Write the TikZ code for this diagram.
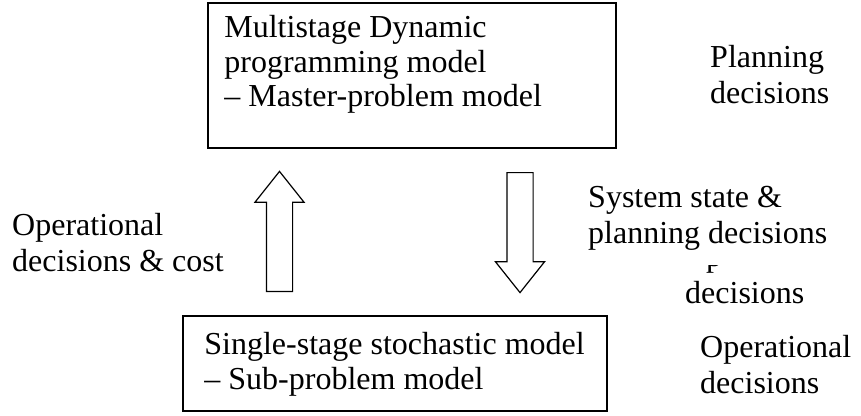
\documentclass[tikz,border=0pt]{standalone}
\usepackage{fontspec}
\setmainfont{Liberation Serif}
\usepackage{xcolor}
\usetikzlibrary{shapes.arrows}
\newcommand{\boxfont}{\fontsize{32}{34.5}\selectfont}
\newcommand{\sidefont}{\fontsize{32}{36.5}\selectfont}
\tikzstyle{modelbox} = [
    draw=black,
    line width=1.6pt,
    rectangle
    ]
\tikzstyle{boxtext} = [
    inner sep=0pt,
    align=left,
    font=\boxfont
    ]
\tikzstyle{sidetext} = [
    inner sep=0pt,
    align=left,
    font=\sidefont
    ]
\tikzstyle{flowarrow} = [
    draw=black,
    line width=1.2pt,
    single arrow,
    minimum height=120pt,
    inner xsep=0pt,
    inner ysep=12.5pt,
    single arrow head extend=11.5pt,
    single arrow tip angle=77
    ]

\begin{document}
\begin{tikzpicture}[x=1pt,y=-1pt]
\useasboundingbox (0,0) rectangle (861,415);
% the two models
\node [modelbox, minimum width=408pt, minimum height=145pt] (master) at (412,75.5) {};
\node [boxtext, anchor=north west] (mastertext) at ([xshift=17pt,yshift=-13pt]master.north west)
    {Multistage Dynamic\\programming model\\-- Master-problem model};
\node [modelbox, minimum width=424pt, minimum height=95pt] (sub) at (395,363.5) {};
\node [boxtext, anchor=north west] (subtext) at ([xshift=22pt,yshift=-17pt]sub.north west)
    {Single-stage stochastic model\\-- Sub-problem model};
% block arrows between them
\node [flowarrow, rotate=90, anchor=tail] (upflow) at (279.5,292) {};
\node [flowarrow, rotate=-90, anchor=tail] (downflow) at (520,172) {};
% texts at the side
\node [sidetext, anchor=north west] (plan) at (710,45) {Planning\\decisions};
\node [sidetext, anchor=north west] (opcost) at (12,213) {Operational\\decisions \& cost};
\begin{scope}
\clip (690,265) rectangle (730,280);
\node [sidetext, anchor=base west] (hiddenp) at (706,266) {p};
\end{scope}
\node [sidetext, anchor=north west] (state) at (588,186) {System state \&\\planning decisions};
\node [sidetext, anchor=north west] (lowdec) at (685,281) {decisions};
\node [sidetext, anchor=north west] (opdec) at (700,335) {Operational\\decisions};
\end{tikzpicture}
\end{document}
